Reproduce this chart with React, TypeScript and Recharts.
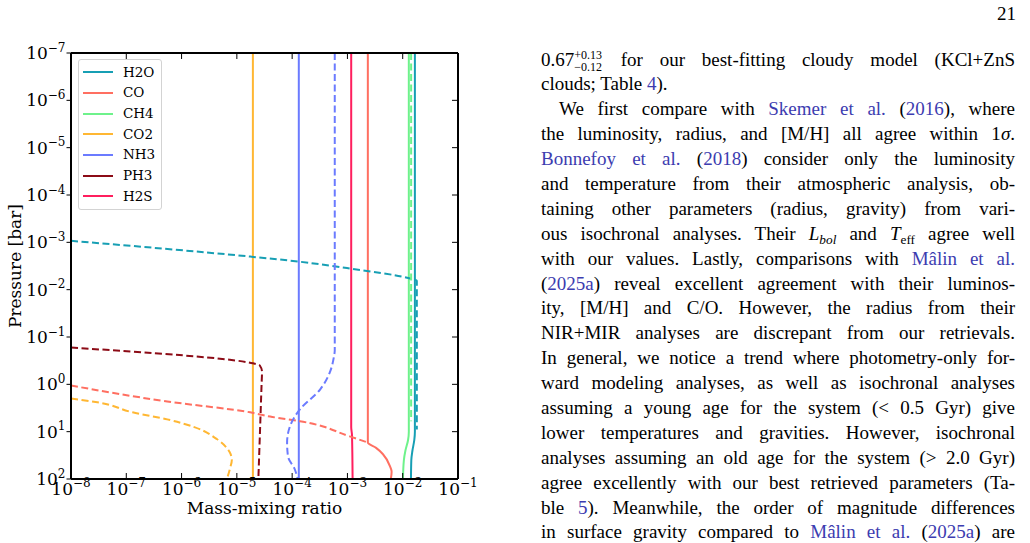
import React from 'react';
import { LineChart, Line, XAxis, YAxis, Legend } from 'recharts';

const xTicks = [1e-8, 1e-7, 1e-6, 1e-5, 1e-4, 1e-3, 1e-2, 1e-1];
const pTicks = [1e-7, 1e-6, 1e-5, 1e-4, 1e-3, 1e-2, 1e-1, 1, 10, 100];

// profiles as [pressure (bar), mass-mixing ratio]
// solid = retrieved, dashed = equilibrium chemistry
const h2oRet = [[1e-7, 0.0166], [10, 0.0166], [15, 0.0162], [25, 0.015], [40, 0.0143], [100, 0.0141]];
const h2oEq = [[9.3e-4, 1e-8], [2.0e-3, 1.74e-5], [2.57e-3, 1.38e-4], [3.6e-3, 1.17e-3], [5.6e-3, 0.012], [6.5e-3, 0.018], [9, 0.018]];
const coRet = [[1e-7, 2.34e-3], [17, 2.34e-3], [22, 3.3e-3], [30, 4.4e-3], [54, 5.9e-3], [70, 6.3e-3], [100, 6.1e-3]];
const coEq = [[1.06, 1e-8], [2.3, 5.5e-7], [3.9, 1.74e-5], [4.8, 4e-5], [6.0, 1.38e-4], [12.6, 1.1e-3], [17, 2.34e-3]];
const ch4Ret = [[1e-7, 0.0129], [10, 0.0129], [15, 0.0125], [25, 0.0112], [40, 0.0105], [100, 0.0101]];
const ch4Eq = [[1e-7, 0.0142], [6, 0.0142]];
const co2Ret = [[1e-7, 1.95e-5], [100, 1.95e-5]];
const co2Eq = [[2.0, 1e-8], [2.4, 3e-8], [3.9, 1.3e-7], [5.5, 5.5e-7], [8, 1.7e-6], [14.5, 4.4e-6], [27, 7.4e-6], [40, 8.1e-6], [57, 7.6e-6], [100, 6.6e-6]];
const nh3Ret = [[1e-7, 1.32e-4], [100, 1.32e-4]];
const nh3Eq = [[1e-7, 5.9e-4], [0.19, 5.9e-4], [0.26, 5.7e-4], [0.56, 4.8e-4], [1.29, 3.2e-4], [3.4, 1.38e-4], [7.8, 9.1e-5], [17, 8.1e-5], [33, 8.4e-5], [63, 1.12e-4], [100, 1.26e-4]];
const ph3Eq = [[0.167, 1e-8], [0.36, 1.95e-5], [0.4, 2.6e-5], [0.54, 2.85e-5], [1, 2.8e-5], [100, 2.45e-5]];
const h2sRet = [[1e-7, 1.17e-3], [8, 1.17e-3], [12, 1.21e-3], [100, 1.24e-3]];

const species = [
  { name: 'H2O', color: '#179fb4', ret: h2oRet, eq: h2oEq },
  { name: 'CO', color: '#ff6f61', ret: coRet, eq: coEq },
  { name: 'CH4', color: '#6ef28b', ret: ch4Ret, eq: ch4Eq },
  { name: 'CO2', color: '#ffb733', ret: co2Ret, eq: co2Eq },
  { name: 'NH3', color: '#6b7bff', ret: nh3Ret, eq: nh3Eq },
  { name: 'PH3', color: '#8c0b16', ret: null, eq: ph3Eq },
  { name: 'H2S', color: '#ff1f5e', ret: h2sRet, eq: null },
];

const toRows = (pts: number[][]) => pts.map(([p, v]) => ({ p, v }));

const serif = '"DejaVu Serif", serif';
const textSerif = '"Liberation Serif", serif';
const linkColor = '#3c3cb0';

const expText = (v: number) => {
  const e = Math.round(Math.log10(v));
  return e < 0 ? `\u2212${-e}` : `${e}`;
};

const LeftTick = ({ x, y, payload }: any) => (
  <text x={x} y={y + 6} textAnchor="end" fontFamily={serif} fontSize={17} fill="#000">
    10<tspan dy={-7.5} fontSize={12}>{expText(payload.value)}</tspan>
  </text>
);

const BottomTick = ({ x, y, payload }: any) => (
  <g>
    <line x1={x} x2={x} y1={y} y2={y - 6} stroke="#000" />
    <text x={x} y={y + 16} textAnchor="middle" fontFamily={serif} fontSize={17} fill="#000">
      10<tspan dy={-8.5} fontSize={12}>{expText(payload.value)}</tspan>
    </text>
  </g>
);

const EmptyTick = () => <g />;

const YTitle = ({ viewBox }: any) => {
  const cx = 15;
  const cy = viewBox.y + viewBox.height / 2;
  return (
    <text x={cx} y={cy} transform={`rotate(-90 ${cx} ${cy})`} textAnchor="middle" dominantBaseline="central"
      fontFamily={serif} fontSize={17} fill="#000">
      Pressure [bar]
    </text>
  );
};

const LegendBox = () => (
  <div style={{ border: '1px solid #d3d3d3', borderRadius: 3, background: 'rgba(255,255,255,0.85)', padding: '2px 0', width: 82 }}>
    {species.map((s) => (
      <div key={s.name} style={{ height: 20.67, display: 'flex', alignItems: 'center' }}>
        <svg width={30} height={4} style={{ marginLeft: 4 }}>
          <line x1={0} x2={30} y1={2} y2={2} stroke={s.color} strokeWidth={2} />
        </svg>
        <span style={{ marginLeft: 10, fontFamily: serif, fontSize: 13.5, lineHeight: 1, color: '#000' }}>{s.name}</span>
      </div>
    ))}
  </div>
);

const A = ({ children }: any) => <span style={{ color: linkColor }}>{children}</span>;

const PlusMinus = () => (
  <span style={{ display: 'inline-flex', flexDirection: 'column', verticalAlign: 'middle', fontSize: 12, lineHeight: '12.5px', marginRight: 2 }}>
    <span>+0.13</span>
    <span>{'\u2212'}0.12</span>
  </span>
);

const sub = { fontSize: '0.7em', verticalAlign: '-0.3em', lineHeight: 0 };

const paperLines = [
  { indent: false, last: false, body: <>0.67<PlusMinus /> for our best-fitting cloudy model (KCl+ZnS</> },
  { indent: false, last: true, body: <>clouds; Table <A>4</A>).</> },
  { indent: true, last: false, body: <>We first compare with <A>Skemer et al.</A> (<A>2016</A>), where</> },
  { indent: false, last: false, body: <>the luminosity, radius, and [M/H] all agree within 1<i>σ</i>.</> },
  { indent: false, last: false, body: <><A>Bonnefoy et al.</A> (<A>2018</A>) consider only the luminosity</> },
  { indent: false, last: false, body: <>and temperature from their atmospheric analysis, ob-</> },
  { indent: false, last: false, body: <>taining other parameters (radius, gravity) from vari-</> },
  { indent: false, last: false, body: <>ous isochronal analyses. Their <i>L</i><span style={sub}><i>bol</i></span> and <i>T</i><span style={sub}>eff</span> agree well</> },
  { indent: false, last: false, body: <>with our values. Lastly, comparisons with <A>Mâlin et al.</A></> },
  { indent: false, last: false, body: <>(<A>2025a</A>) reveal excellent agreement with their luminos-</> },
  { indent: false, last: false, body: <>ity, [M/H] and C/O. However, the radius from their</> },
  { indent: false, last: false, body: <>NIR+MIR analyses are discrepant from our retrievals.</> },
  { indent: false, last: false, body: <>In general, we notice a trend where photometry-only for-</> },
  { indent: false, last: false, body: <>ward modeling analyses, as well as isochronal analyses</> },
  { indent: false, last: false, body: <>assuming a young age for the system (&lt; 0.5 Gyr) give</> },
  { indent: false, last: false, body: <>lower temperatures and gravities. However, isochronal</> },
  { indent: false, last: false, body: <>analyses assuming an old age for the system (&gt; 2.0 Gyr)</> },
  { indent: false, last: false, body: <>agree excellently with our best retrieved parameters (Ta-</> },
  { indent: false, last: false, body: <>ble <A>5</A>). Meanwhile, the order of magnitude differences</> },
  { indent: false, last: false, body: <>in surface gravity compared to <A>Mâlin et al.</A> (<A>2025a</A>) are</> },
];

export default function App() {
  return (
    <div style={{ position: 'absolute', left: 0, top: 0, width: 1030, height: 543, background: '#fff', overflow: 'hidden' }}>
      <div style={{ position: 'absolute', left: 0, top: 0 }}>
        <LineChart width={480} height={543} layout="vertical" margin={{ top: 53, right: 22, left: 0, bottom: 0 }}>
          <XAxis xAxisId="bottom" orientation="bottom" type="number" scale="log" domain={[1e-8, 1e-1]} ticks={xTicks}
            interval={0} allowDataOverflow height={64} tickSize={0} tickMargin={0} tickLine={false}
            tick={BottomTick} axisLine={{ stroke: '#000', strokeWidth: 2 }}
            label={{ value: 'Mass-mixing ratio', position: 'insideBottom', offset: 29, fontFamily: serif, fontSize: 17, fill: '#000' }} />
          <XAxis xAxisId="top" orientation="top" mirror type="number" scale="log" domain={[1e-8, 1e-1]} ticks={xTicks}
            interval={0} allowDataOverflow tickSize={6} tick={EmptyTick} tickLine={{ stroke: '#000' }}
            axisLine={{ stroke: '#000', strokeWidth: 2 }} />
          <YAxis yAxisId="left" orientation="left" type="number" dataKey="p" scale="log" domain={[1e-7, 100]}
            ticks={pTicks} interval={0} allowDataOverflow width={71} tickSize={4.5} tickMargin={1} tick={LeftTick}
            tickLine={{ stroke: '#000' }} axisLine={{ stroke: '#000', strokeWidth: 2 }} label={{ content: YTitle }} />
          <YAxis yAxisId="right" orientation="right" mirror type="number" dataKey="p" scale="log" domain={[1e-7, 100]}
            ticks={pTicks} interval={0} allowDataOverflow tickSize={6} tick={EmptyTick} tickLine={{ stroke: '#000' }}
            axisLine={{ stroke: '#000', strokeWidth: 2 }} />
          <Legend layout="vertical" align="center" verticalAlign="middle" content={LegendBox}
            wrapperStyle={{ left: 78, top: 59 }} />
          {species.filter((s) => s.ret).map((s) => (
            <Line key={s.name} xAxisId="bottom" yAxisId="left" data={toRows(s.ret as number[][])} dataKey="v"
              name={s.name} type="monotone" stroke={s.color} strokeWidth={2}
              dot={false} activeDot={false} isAnimationActive={false} />
          ))}
          {species.filter((s) => s.eq).map((s) => (
            <Line key={`${s.name}-eq`} xAxisId="bottom" yAxisId="left" data={toRows(s.eq as number[][])} dataKey="v"
              name={`${s.name} eq`} type="monotone" stroke={s.color} strokeWidth={2} strokeDasharray="7 3.5"
              dot={false} activeDot={false} legendType="none" isAnimationActive={false} />
          ))}
        </LineChart>
      </div>

      <div style={{ position: 'absolute', left: 990, top: 3, width: 26, textAlign: 'right', fontFamily: textSerif, fontSize: 19, lineHeight: '22px', color: '#000' }}>
        21
      </div>

      <div style={{ position: 'absolute', left: 541, top: 47.5, width: 474, fontFamily: textSerif, fontSize: 19, color: '#000' }}>
        {paperLines.map((ln, i) => (
          <div key={i} style={{
            height: 24.9, lineHeight: '24.9px', whiteSpace: 'nowrap',
            textAlign: ln.last ? 'left' : 'justify', textAlignLast: ln.last ? 'left' : 'justify',
            paddingLeft: ln.indent ? 18 : 0,
          }}>
            {ln.body}
          </div>
        ))}
      </div>
    </div>
  );
}
